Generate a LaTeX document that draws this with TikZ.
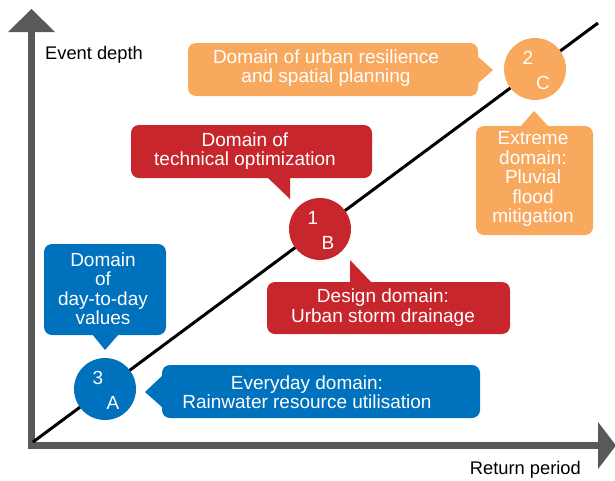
\documentclass[tikz,border=0pt]{standalone}
\usepackage{fontspec}
\setmainfont{Liberation Sans}
\usetikzlibrary{calc}
\definecolor{cor}{HTML}{F8A95E}
\definecolor{cred}{HTML}{C8262D}
\definecolor{cblu}{HTML}{0071BC}
\definecolor{caxis}{HTML}{59595B}
\begin{document}
\begin{tikzpicture}[x=1pt,y=-1pt,
  callout/.style={rectangle, rounded corners=8pt, inner sep=0pt, outer sep=0pt, draw=none},
  ctext/.style={text=white, align=center, font=\fontsize{19}{19.5}\selectfont, inner sep=0pt},
  disc/.style={circle, minimum size=62pt, inner sep=0pt, outer sep=0pt, draw=none},
  dtext/.style={text=white, font=\fontsize{19}{20}\selectfont, inner sep=0pt},
  axlabel/.style={text=black, font=\fontsize{18.3}{20}\selectfont, inner sep=0pt},
  axisline/.style={draw=caxis, line width=7pt},
]
\useasboundingbox (0,0) rectangle (615,480);
% axes
\coordinate (O) at (31.5,445.5);
\coordinate (ytop) at (31.5,32);
\coordinate (xend) at (598,445.5);
\draw[axisline] (31.5,449) -- (ytop);
\draw[axisline] (28,445.5) -- (xend);
\fill[caxis] (8,32) -- (31.5,9) -- (55,32) -- cycle;
\fill[caxis] (598,422) -- (616,445.5) -- (598,469) -- cycle;
\node[axlabel, anchor=base west] (ylab) at (45,59) {Event depth};
\node[axlabel, anchor=base east] (xlab) at (581,474) {Return period};
% diagonal
\coordinate (d0) at (33,442);
\coordinate (d1) at (598,23);
\draw[black, line width=3pt] (d0) -- (d1);
% circles
\node[disc, fill=cblu] (cA) at (105,389) {};
\node[disc, fill=cred] (cB) at (320,229) {};
\node[disc, fill=cor] (cC) at (535,69) {};
\foreach \c/\n/\l in {cA/3/A, cB/1/B, cC/2/C}{
  \node[dtext] at ($(\c.center)+(-7,-11.5)$) {\n};
  \node[dtext] at ($(\c.center)+(8,13.5)$) {\l};
}
% orange top
\node[callout, fill=cor, minimum width=290pt, minimum height=53pt] (ob) at (333,69.5) {};
\fill[cor] (476,55) -- (493,70) -- (476,85) -- cycle;
\node[ctext] (obt) at (326,68) {Domain of urban resilience\\and spatial planning};
% orange right
\node[callout, fill=cor, minimum width=117pt, minimum height=109pt] (orr) at (534.5,180.5) {};
\fill[cor] (520,127) -- (534,111) -- (549,127) -- cycle;
\node[ctext] (orrt) at (533,179) {Extreme\\domain:\\Pluvial\\flood\\mitigation};
% red top
\node[callout, fill=cred, minimum width=241pt, minimum height=53pt] (rt) at (251.5,151.5) {};
\fill[cred] (267,177) -- (290,199) -- (290,177) -- cycle;
\node[ctext] (rtt) at (245,151) {Domain of\\technical optimization};
% red bottom
\node[callout, fill=cred, minimum width=243pt, minimum height=52pt] (rb) at (388.5,308) {};
\fill[cred] (350,283) -- (350,260) -- (372,283) -- cycle;
\node[ctext] (rbt) at (383,307.5) {Design domain:\\Urban storm drainage};
% blue left
\node[callout, fill=cblu, minimum width=122pt, minimum height=91pt] (bl) at (105,289.5) {};
\fill[cblu] (92,334) -- (105,350) -- (119,334) -- cycle;
\node[ctext] (blt) at (103,288.5) {Domain\\of\\day-to-day\\values};
% blue bottom
\node[callout, fill=cblu, minimum width=318pt, minimum height=53pt] (bb) at (321,391.5) {};
\fill[cblu] (163,375) -- (145,392) -- (163,408) -- cycle;
\node[ctext] (bbt) at (307,392) {Everyday domain:\\Rainwater resource utilisation};
\end{tikzpicture}
\end{document}
